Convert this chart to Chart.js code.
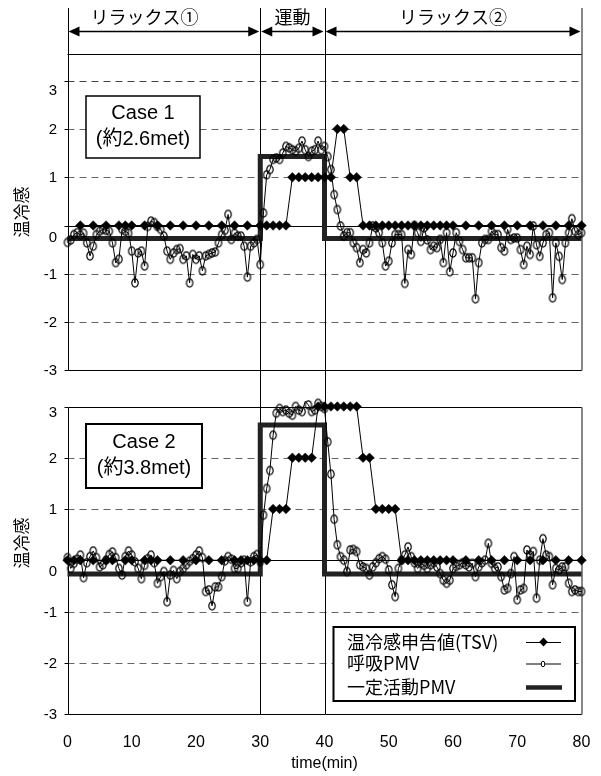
<!DOCTYPE html>
<html><head><meta charset="utf-8">
<script src="https://cdn.jsdelivr.net/npm/chart.js@4.4.0/dist/chart.umd.min.js"></script>
<style>
html,body{margin:0;padding:0;background:#fff;}
#wrap{position:relative;width:601px;height:776px;overflow:hidden;background:#fff;}
canvas{position:absolute;left:0;}
#c1{top:0;}
#c2{top:392px;}
</style></head>
<body><div id="wrap"><canvas id="c1" width="601" height="392"></canvas><canvas id="c2" width="601" height="384"></canvas></div>
<script>
// ---------------- data ----------------
const xTicks = [0,10,20,30,40,50,60,70,80];
const yTicks = [3,2,1,0,-1,-2,-3];
const yTickText = ['3','2','1','0','-1','-2','-3'];
const dashedLevels = [2,1,-1,-2];
const phaseBounds = [0,30,40,80];
const phaseNames = ['リラックス①','運動','リラックス②'];
const phaseLabelAt = [12,35,60];
const legendNames = ['温冷感申告値(TSV)','呼吸PMV','一定活動PMV'];
const yTitle = '温冷感';
const xTitle = 'time(min)';
const case1Text = ['Case 1','(約2.6met)'];
const case2Text = ['Case 2','(約3.8met)'];

// 温冷感申告値 (TSV) - case 1
const tsv1T = [2,4,6,8,9,10,12,14,16,18,20,22,24,26,28,30,31,32,33,34,35,36,37,38,39,40,41,42,43,44,45,46,47,48,49,50,51,52,53,54,55,56,57,58,59,60,62,64,66,68,70,72,74,76,78,80];
const tsv1V = [0,0,0,0,0,0,0,0,0,0,0,0,0,0,0,0,0,0,0,0,1,1,1,1,1,1,1,2,2,1,1,0,0,0,0,0,0,0,0,0,0,0,0,0,0,0,0,0,0,0,0,0,0,0,0,0];
// TSV - case 2
const tsv2T = [0,1,2,4,6,7,9,10,12,13,14,16,18,20,22,24,26,27,28,29,30,31,32,33,34,35,36,37,38,39,40,41,42,43,44,45,46,47,48,49,50,51,52,53,54,55,56,57,58,59,60,62,64,66,68,70,72,74,76,78,80];
const tsv2V = [0,0,0,0,0,0,0,0,0,0,0,0,0,0,0,0,0,0,0,0,0,0,1,1,1,2,2,2,2,3,3,3,3,3,3,3,2,2,1,1,1,1,0,0,0,0,0,0,0,0,0,0,0,0,0,0,0,0,0,0,0];

// 呼吸PMV sampling times (min)
const breathT = [0,0.5,1,1.5,2,2.5,3,3.5,4,4.5,5,5.5,6,6.5,7,7.5,8,8.5,9,9.5,
10,10.5,11,11.5,12,12.5,13,13.5,14,14.5,15,15.5,16,16.5,17,17.5,18,18.5,19,19.5,
20,20.5,21,21.5,22,22.5,23,23.5,24,24.5,25,25.5,26,26.5,27,27.5,28,28.5,29,29.5,
30,30.5,31,31.5,32,32.5,33,33.5,34,34.5,35,35.5,36,36.5,37,37.5,38,38.5,39,39.5,
40,40.5,41,41.5,42,42.5,43,43.5,44,44.5,45,45.5,46,46.5,47,47.5,48,48.5,49,49.5,
50,50.5,51,51.5,52,52.5,53,53.5,54,54.5,55,55.5,56,56.5,57,57.5,58,58.5,59,59.5,
60,60.5,61,61.5,62,62.5,63,63.5,64,64.5,65,65.5,66,66.5,67,67.5,68,68.5,69,69.5,
70,70.5,71,71.5,72,72.5,73,73.5,74,74.5,75,75.5,76,76.5,77,77.5,78,78.5,79,79.5,80];
// 呼吸PMV - case 1
const breath1 = [-0.35,-0.30,-0.19,-0.15,-0.20,-0.16,-0.36,-0.63,-0.43,-0.19,-0.12,-0.08,-0.10,-0.12,-0.36,-0.77,-0.70,-0.08,-0.12,-0.16,
-0.53,-1.19,-0.57,-0.53,-0.84,-0.02,0.09,0.06,-0.02,-0.08,-0.22,-0.53,-0.70,-0.57,-0.50,-0.48,-0.70,-0.63,-1.19,-0.60,
-0.70,-0.63,-0.94,-0.63,-0.60,-0.57,-0.55,-0.36,-0.19,-0.10,0.23,-0.29,-0.16,-0.22,-0.22,-0.43,-1.07,-0.43,-0.36,-0.29,
-0.81,0.26,1.05,1.16,1.37,1.40,1.37,1.50,1.64,1.61,1.57,1.54,1.60,1.75,1.57,1.43,1.54,1.57,1.75,1.57,
1.64,1.43,1.16,0.64,0.33,-0.01,-0.22,-0.15,-0.15,-0.36,-0.46,-0.77,-0.50,-0.57,-0.36,-0.01,-0.05,-0.15,-0.36,-0.84,
-0.74,-0.36,-0.19,-0.19,-0.19,-1.20,-0.50,-0.60,0.00,-0.15,-0.33,-0.05,-0.30,-0.50,-0.43,-0.46,-0.29,-0.77,-0.15,-0.96,
-0.57,-0.15,-0.33,-0.50,-0.67,-0.67,-0.67,-1.52,-0.77,-0.36,-0.29,-0.29,-0.12,-0.19,-0.19,-0.46,-0.53,-0.08,-0.29,-0.26,
-0.26,-0.50,-0.81,-0.43,-0.60,-0.01,-0.40,-0.64,-0.36,-0.19,-0.15,-1.50,-0.36,-0.64,-1.12,-0.36,-0.15,0.14,-0.12,-0.19,-0.15];
// 呼吸PMV - case 2
const breath2 = [0.05,-0.16,-0.06,0.02,0.10,-0.34,-0.05,0.07,0.18,0.05,-0.13,-0.09,0.00,0.11,0.16,0.05,-0.16,-0.29,0.07,0.18,
0.10,-0.03,-0.16,-0.36,-0.10,0.03,0.10,-0.05,-0.45,-0.32,-0.22,-0.81,-0.29,-0.20,-0.36,-0.22,-0.16,-0.09,-0.02,0.03,
0.10,0.18,0.05,-0.61,-0.58,-0.89,-0.52,-0.52,-0.32,-0.01,0.07,0.02,-0.16,-0.16,-0.05,0.00,-0.81,-0.03,0.07,0.11,
-0.03,0.88,1.40,1.75,2.44,2.87,2.96,2.90,2.93,2.87,2.83,3.00,2.93,2.90,3.10,3.03,2.90,2.93,3.06,3.00,
2.96,2.31,1.68,0.80,0.30,0.07,0.00,-0.22,0.20,0.21,0.17,-0.09,-0.13,-0.16,-0.29,-0.13,-0.05,0.03,0.07,0.02,
-0.19,-0.48,-0.71,-0.16,0.00,0.10,0.26,0.07,-0.05,-0.16,-0.06,-0.10,-0.16,-0.09,-0.05,-0.13,-0.26,-0.39,-0.45,-0.39,
-0.16,-0.12,-0.09,-0.05,-0.09,-0.13,-0.06,-0.32,-0.13,-0.05,0.00,0.33,-0.06,-0.16,-0.13,-0.32,-0.58,-0.55,-0.26,0.07,
-0.77,-0.58,-0.55,0.20,0.10,0.17,-0.74,0.00,0.42,0.10,0.07,-0.48,-0.16,-0.19,-0.13,-0.13,-0.45,-0.61,-0.58,-0.61,-0.61];

// 一定活動PMV
const constT = [0,30,30,40,40,80];
const const1 = [-0.27,-0.27,1.43,1.43,-0.27,-0.27];
const const2 = [-0.27,-0.27,2.64,2.64,-0.27,-0.27];

// ---------------- styling ----------------
const NUM_FONT = '"Liberation Sans", Arial, "Noto Sans CJK JP", sans-serif';
const JP_FONT = '"Noto Sans CJK JP", "Liberation Sans", sans-serif';

function ellipseImg(rx, ry){
  const c = document.createElement('canvas');
  const w = Math.ceil(rx*2+3), h = Math.ceil(ry*2+3);
  c.width = w; c.height = h;
  const g = c.getContext('2d');
  g.strokeStyle = '#000'; g.lineWidth = 1.2;
  g.beginPath(); g.ellipse(w/2, h/2, rx, ry, 0, 0, Math.PI*2); g.stroke();
  return c;
}
const ringImg = ellipseImg(3.2, 4.2);

function pts(t, v){ return t.map((x,i)=>({x:x, y:v[i]})); }

function datasets(tsvT, tsvV, breath, constV){
  return [
    {label:legendNames[0], data:pts(tsvT,tsvV), borderColor:'#000', borderWidth:1,
     pointStyle:'rectRot', pointRadius:4.8, pointBackgroundColor:'#000', pointBorderColor:'#000', pointBorderWidth:0.5,
     clip:false, order:0},
    {label:legendNames[1], data:pts(breathT,breath), borderColor:'#000', borderWidth:1,
     pointStyle:ringImg, pointRadius:4, clip:false, order:1},
    {label:legendNames[2], data:pts(constT,constV), borderColor:'#222', borderWidth:5,
     pointRadius:0, borderCapStyle:'butt', borderJoinStyle:'miter', clip:false, order:2}
  ];
}

function drawArrowHead(ctx, x, y, dir){
  ctx.beginPath();
  ctx.moveTo(x, y);
  ctx.lineTo(x - dir*11, y - 5);
  ctx.lineTo(x - dir*11, y + 5);
  ctx.closePath(); ctx.fill();
}

function decoPlugin(panel){
  return {
    id: 'deco'+panel.id,
    beforeDatasetsDraw(chart){
      const {ctx, chartArea:a, scales:{x, y}} = chart;
      ctx.save();
      // dashed grid lines
      ctx.strokeStyle = '#666'; ctx.lineWidth = 1.2; ctx.setLineDash([7,5]);
      dashedLevels.forEach(v=>{
        const py = Math.round(y.getPixelForValue(v))+0.5;
        ctx.beginPath(); ctx.moveTo(a.left, py); ctx.lineTo(a.right, py); ctx.stroke();
      });
      if (panel.id === 1){
        ctx.strokeStyle = '#444';
        const py = Math.round(y.getPixelForValue(3))+0.5;
        ctx.beginPath(); ctx.moveTo(a.left, py); ctx.lineTo(a.right, py); ctx.stroke();
      }
      ctx.setLineDash([]);
      // zero line
      ctx.strokeStyle = '#000'; ctx.lineWidth = 1;
      let pz = Math.round(y.getPixelForValue(0))+0.5;
      ctx.beginPath(); ctx.moveTo(a.left, pz); ctx.lineTo(a.right, pz); ctx.stroke();
      // phase boundary lines
      [phaseBounds[1], phaseBounds[2]].forEach(t=>{
        const px = Math.round(x.getPixelForValue(t))+0.5;
        ctx.beginPath();
        if (panel.id === 1){ ctx.moveTo(px, 8); ctx.lineTo(px, chart.height); }
        else { ctx.moveTo(px, 0); ctx.lineTo(px, a.bottom); }
        ctx.stroke();
      });
      // frame
      const L = Math.round(a.left)+0.5, R = Math.round(a.right), T = Math.round(a.top)+0.5, B = Math.round(a.bottom)+0.5;
      ctx.strokeStyle = '#000'; ctx.lineWidth = 1;
      ctx.beginPath(); ctx.moveTo(L, panel.id===1 ? 8 : T); ctx.lineTo(L, B); ctx.lineTo(R, B); ctx.stroke();
      if (panel.id === 2){ ctx.beginPath(); ctx.moveTo(L, T); ctx.lineTo(R, T); ctx.stroke(); }
      ctx.strokeStyle = '#888'; ctx.lineWidth = 2;
      ctx.beginPath(); ctx.moveTo(R, panel.id===1 ? 8 : T); ctx.lineTo(R, B); ctx.stroke();
      // y tick marks and labels
      ctx.strokeStyle = '#000'; ctx.lineWidth = 1;
      ctx.fillStyle = '#000';
      ctx.font = '15px ' + NUM_FONT;
      ctx.textAlign = 'right'; ctx.textBaseline = 'middle';
      yTicks.forEach((v,i)=>{
        const py = Math.round(y.getPixelForValue(v))+0.5;
        ctx.beginPath(); ctx.moveTo(L-4, py); ctx.lineTo(L, py); ctx.stroke();
        const off = panel.labelOffset[v] || 0;
        ctx.fillText(yTickText[i], 57, py + off);
      });
      // y title
      ctx.save();
      ctx.translate(22, panel.titleY);
      ctx.rotate(-Math.PI/2);
      ctx.textAlign = 'center'; ctx.textBaseline = 'middle';
      ctx.font = '17px ' + JP_FONT;
      ctx.fillText(yTitle, 0, 0);
      ctx.restore();
      // phase annotation (top only)
      if (panel.id === 1){
        const x0 = x.getPixelForValue(phaseBounds[0]), x3 = x.getPixelForValue(phaseBounds[3]);
        ctx.strokeStyle = '#000'; ctx.lineWidth = 1;
        ctx.beginPath(); ctx.moveTo(x0, 54.5); ctx.lineTo(x3, 54.5); ctx.stroke();
        for (let k=0;k<3;k++){
          const xa = x.getPixelForValue(phaseBounds[k])+1, xb = x.getPixelForValue(phaseBounds[k+1])-1;
          ctx.beginPath(); ctx.moveTo(xa+5, 31.5); ctx.lineTo(xb-5, 31.5); ctx.lineWidth = 1.5; ctx.stroke();
          drawArrowHead(ctx, xa, 31.5, -1);
          drawArrowHead(ctx, xb, 31.5, 1);
          ctx.font = '18px ' + JP_FONT;
          ctx.textAlign = 'center'; ctx.textBaseline = 'middle';
          ctx.fillText(phaseNames[k], x.getPixelForValue(phaseLabelAt[k]), 17);
        }
      }
      ctx.restore();
    },
    afterDatasetsDraw(chart){
      const {ctx} = chart;
      ctx.save();
      // case box
      const b = panel.caseBox;
      ctx.fillStyle = '#fff'; ctx.fillRect(b[0], b[1], b[2], b[3]);
      ctx.strokeStyle = '#000'; ctx.lineWidth = panel.id===1 ? 1.5 : 2;
      ctx.strokeRect(b[0], b[1], b[2], b[3]);
      ctx.fillStyle = '#000'; ctx.textAlign = 'center'; ctx.textBaseline = 'middle';
      ctx.font = '20px ' + NUM_FONT;
      ctx.fillText(panel.caseText[0], b[0]+b[2]/2, b[1]+b[3]*0.29);
      ctx.fillText(panel.caseText[1], b[0]+b[2]/2, b[1]+b[3]*0.70);
      // legend
      if (panel.id === 2){
        const lx = 333.5, ly = 235, lw = 241.5, lh = 74;
        ctx.fillStyle = '#fff'; ctx.fillRect(lx, ly, lw, lh);
        ctx.strokeStyle = '#000'; ctx.lineWidth = 2; ctx.strokeRect(lx, ly, lw, lh);
        const rows = [250, 271.5, 295.5];
        ctx.fillStyle = '#000'; ctx.textAlign = 'left'; ctx.textBaseline = 'middle';
        ctx.font = '18px ' + JP_FONT;
        legendNames.forEach((n,i)=> ctx.fillText(n, 347, rows[i]));
        // samples
        ctx.strokeStyle = '#000';
        ctx.lineWidth = 1;
        ctx.beginPath(); ctx.moveTo(526, rows[0]+0.5); ctx.lineTo(561, rows[0]+0.5); ctx.stroke();
        ctx.beginPath(); ctx.moveTo(543.5, rows[0]-4.6); ctx.lineTo(547.8, rows[0]); ctx.lineTo(543.5, rows[0]+4.6); ctx.lineTo(539.2, rows[0]); ctx.closePath(); ctx.fill();
        ctx.beginPath(); ctx.moveTo(526, rows[1]+0.5); ctx.lineTo(561, rows[1]+0.5); ctx.stroke();
        ctx.beginPath(); ctx.ellipse(543, rows[1]+0.5, 1.8, 2.8, 0, 0, Math.PI*2); ctx.fillStyle='#fff'; ctx.fill(); ctx.stroke();
        ctx.strokeStyle = '#222'; ctx.lineWidth = 4.5;
        ctx.beginPath(); ctx.moveTo(526, rows[2]); ctx.lineTo(562, rows[2]); ctx.stroke();
      }
      ctx.restore();
    }
  };
}

function makeChart(canvasId, panel, tsvT, tsvV, breath, constV){
  return new Chart(document.getElementById(canvasId), {
    type:'line',
    data:{datasets: datasets(tsvT, tsvV, breath, constV)},
    options:{
      responsive:false, animation:false, devicePixelRatio:1,
      layout:{padding:{left:67.5, right:19.5, top:panel.padTop, bottom:panel.padBottom}},
      plugins:{legend:{display:false}, tooltip:{enabled:false}},
      elements:{line:{tension:0}},
      scales:{
        x:{type:'linear', min:0, max:80, display:panel.showX,
           grid:{display:false, drawTicks:false}, border:{display:false},
           afterBuildTicks(s){ s.ticks = xTicks.map(v=>({value:v})); },
           afterFit(s){ s.height = panel.showX ? 62 : 0; s.paddingLeft = 0; s.paddingRight = 0; },
           ticks:{color:'#000', font:{size:16, family:NUM_FONT}, padding:19, maxRotation:0, autoSkip:false},
           title:{display:true, text:xTitle, color:'#000', font:{size:16, family:NUM_FONT}, padding:{top:0,bottom:3}}},
        y:{type:'linear', min:-3, max:3, display:false}
      }
    },
    plugins:[decoPlugin(panel)]
  });
}

makeChart('c1', {id:1, padTop:80.8, padBottom:21.8, showX:false, titleY:212,
  labelOffset:{3:9, 0:11}, caseBox:[86,96,114,62], caseText:case1Text}, tsv1T, tsv1V, breath1, const1);
makeChart('c2', {id:2, padTop:14.5, padBottom:0, showX:true, titleY:151,
  labelOffset:{3:5, 0:11}, caseBox:[86,32,116,64], caseText:case2Text}, tsv2T, tsv2V, breath2, const2);
</script>
</body></html>
